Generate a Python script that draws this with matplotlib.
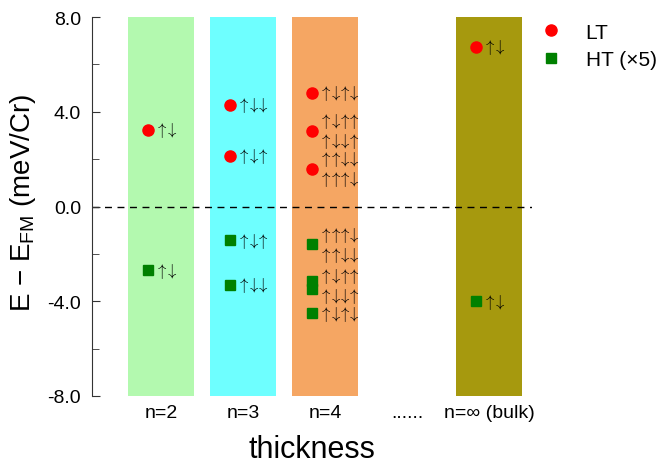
import matplotlib.pyplot as plt

plt.rcParams['font.family'] = ['Liberation Sans', 'DejaVu Sans']
plt.rcParams['mathtext.fontset'] = 'custom'
plt.rcParams['mathtext.rm'] = 'Liberation Sans'

# slab thickness categories (position 4 is the "......" gap)
thickness = ['n=2', 'n=3', 'n=4', '......', 'n=\u221e (bulk)']
band_pos = [1, 2, 3, 5]
band_colors = ['#b3f9af', '#6effff', '#f5a663', '#a6990e']

# low-temperature phase energies (meV/Cr)
lt_pos = [1, 2, 2, 3, 3, 3, 5]
lt_energy = [3.25, 4.3, 2.15, 4.8, 3.2, 1.6, 6.75]
lt_spins = ['ud', 'udd', 'udu', 'udud', 'uduu\nuddu', 'uudd\nuuud', 'ud']

# high-temperature phase energies (meV/Cr, scaled x5)
ht_pos = [1, 2, 2, 3, 3, 3, 3, 5]
ht_energy = [-2.7, -1.43, -3.3, -1.6, -3.15, -3.5, -4.5, -4.0]
ht_spins = ['ud', 'udu', 'udd', 'uuud\nuudd', '', 'uduu\nuddu', 'udud', 'ud']
ht_label_y = [-2.7, -1.43, -3.3, -1.6, 0, -3.33, -4.5, -4.0]

dx = 0.16   # marker offset left of band centre
tx = 0.09   # spin label offset right of marker


def spin_text(code):
    # turn 'udu' into stacked up/down arrows, one mathtext line per row
    arrows = {'u': r'\uparrow', 'd': r'\downarrow'}
    rows = []
    for row in code.split('\n'):
        rows.append('$' + r'\!\!'.join(arrows[c] for c in row) + '$')
    return '\n'.join(rows)


fig = plt.figure(figsize=(6.59, 4.64), dpi=100)
ax = fig.add_axes([0.1396, 0.1444, 0.6674, 0.8166])

for p, c in zip(band_pos, band_colors):
    ax.bar(p, 16, bottom=-8, width=0.8, color=c, zorder=0)

ax.axhline(0, color='black', lw=1, ls=(0, (5, 4)), zorder=1)

ax.plot([p - dx for p in lt_pos], lt_energy, 'o', color='red', ms=8,
        ls='none', label='LT', zorder=3)
ax.plot([p - dx for p in ht_pos], ht_energy, 's', color='green', ms=7,
        ls='none', label='HT (\u00d75)', zorder=3)

for p, y, s in zip(lt_pos, lt_energy, lt_spins):
    ax.text(p - dx + tx, y, spin_text(s), fontsize=12, va='center',
            ha='left', linespacing=1.05, math_fontfamily='cm')
for p, y, s in zip(ht_pos, ht_label_y, ht_spins):
    if s:
        ax.text(p - dx + tx, y, spin_text(s), fontsize=12, va='center',
                ha='left', linespacing=1.05, math_fontfamily='cm')

ax.set_xlim(0.16, 5.52)
ax.set_ylim(-8, 8)
ax.set_yticks([-8, -4, 0, 4, 8])
ax.set_yticklabels(['%.1f' % v for v in [-8, -4, 0, 4, 8]])
ax.set_yticks([-6, -2, 2, 6], minor=True)
ax.set_xticks(range(1, 6))
ax.set_xticklabels(thickness)

for side in ['top', 'right', 'bottom']:
    ax.spines[side].set_visible(False)
ax.spines['left'].set_color('#333333')
ax.tick_params(axis='y', which='both', direction='in', color='#333333',
               labelsize=14, pad=8)
ax.tick_params(axis='y', which='major', length=6)
ax.tick_params(axis='y', which='minor', length=5)
ax.tick_params(axis='x', length=0, labelsize=14, pad=6)

ax.set_ylabel(r'E $-$ E$_{\mathrm{FM}}$ (meV/Cr)', fontsize=20)
ax.yaxis.set_label_coords(-0.122, 0.513)
ax.set_xlabel('thickness', fontsize=22, labelpad=9)

ax.legend(loc='upper left', bbox_to_anchor=(0.954, 1.035), frameon=False,
          fontsize=15, handletextpad=0.65, labelspacing=0.4)

fig.savefig('out.png')
